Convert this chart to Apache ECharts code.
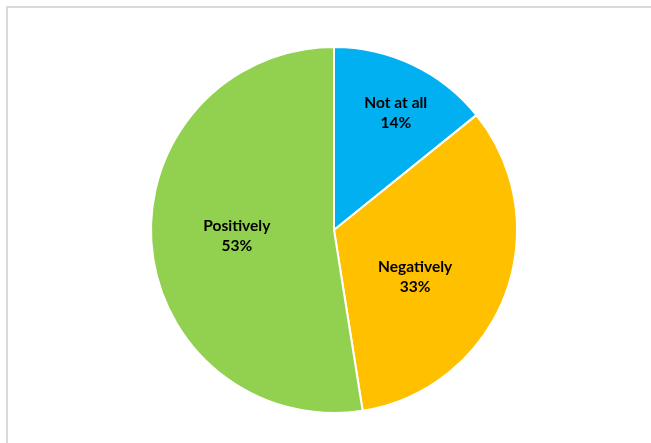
<!DOCTYPE html>
<html>
<head>
<meta charset="utf-8">
<script src="https://cdn.jsdelivr.net/npm/echarts@6/dist/echarts.min.js"></script>
<style>
  html, body { margin: 0; padding: 0; background: #fff; }
  #main { width: 651px; height: 443px; }
</style>
</head>
<body>
<div id="main"></div>
<script>
// 饼图数据
const categories = ['Not at all', 'Negatively', 'Positively']
const values = [14.2, 33.3, 52.5]
const colors = ['#00B0F0', '#FFC000', '#92D050']

const chart = echarts.init(document.getElementById('main'))

// 标签微调（Excel 的标签位置）
const labelShift = [[21, -32], [-7, 13], [-3, -1]]

chart.setOption({
  animation: false,
  graphic: [
    {
      type: 'rect',
      shape: { x: 7, y: 7, width: 700, height: 500 },
      style: { fill: 'none', stroke: '#d9d9d9', lineWidth: 2 },
      silent: true
    }
  ],
  series: [
    {
      type: 'pie',
      center: [334, 230],
      radius: 183,
      startAngle: 90,
      clockwise: true,
      itemStyle: { borderColor: '#fff', borderWidth: 2 },
      label: {
        show: true,
        position: 'inside',
        formatter: p => p.name + '\n' + Math.round(p.value) + '%',
        color: '#000',
        fontFamily: 'Lato',
        fontWeight: 'bold',
        fontSize: 15.5,
        lineHeight: 20
      },
      labelLine: { show: false },
      data: categories.map((name, i) => ({
        name: name,
        value: values[i],
        itemStyle: { color: colors[i] },
        label: { offset: labelShift[i] }
      }))
    }
  ]
})
</script>
</body>
</html>
